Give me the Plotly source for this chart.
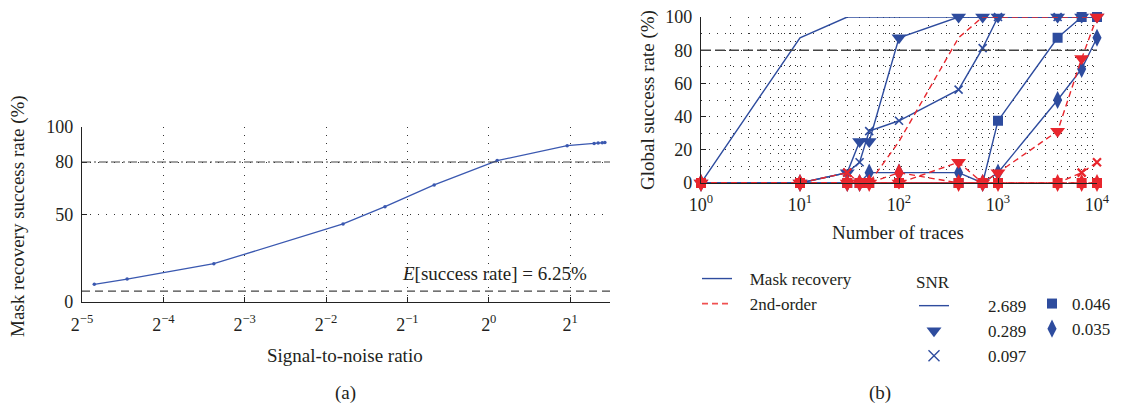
import plotly.graph_objects as go
import numpy as np

# ---------------- data ----------------
# (a) mask recovery success rate vs SNR
snr_a = [0.0347, 0.0459, 0.0961, 0.289, 0.413, 0.628, 1.074, 1.950, 2.454, 2.539, 2.629, 2.689]
rate_a = [10.1, 13.1, 21.9, 44.6, 54.5, 66.9, 80.8, 89.3, 90.6, 90.8, 91.0, 91.1]
expected_rate = 6.25
threshold = 80

# (b) global success rate vs number of traces
traces_n = [1, 10, 30, 40, 50, 100, 400, 700, 1000, 4000, 7000, 10000]
snr_labels = ["2.689", "0.289", "0.097", "0.046", "0.035"]
mask_recovery = {
    "2.689": [0, 87.5, 100, 100, 100, 100, 100, 100, 100, 100, 100, 100],
    "0.289": [0, 0, 6.25, 25, 25, 87.5, 100, 100, 100, 100, 100, 100],
    "0.097": [0, 0, 6.25, 12.5, 31.25, 37.5, 56.25, 81.25, 100, 100, 100, 100],
    "0.046": [0, 0, 0, 0, 0, 0, 0, 0, 37.5, 87.5, 100, 100],
    "0.035": [0, 0, 0, 0, 6.25, 6.25, 6.25, 0, 6.25, 50, 68.75, 87.5],
}
second_order = {
    "2.689": [0, 0, 0, 0, 0, 25, 87.5, 100, 100, 100, 100, 100],
    "0.289": [0, 0, 0, 0, 0, 0, 12.5, 0, 6.25, 31.25, 75, 100],
    "0.097": [0, 0, 6.25, 0, 0, 0, 0, 0, 0, 0, 6.25, 12.5],
    "0.046": [0, 0, 0, 0, 0, 0, 0, 0, 0, 0, 0, 0],
    "0.035": [0, 0, 0, 0, 0, 6.25, 0, 0, 0, 0, 0, 0],
}

# ---------------- styles ----------------
BLUE = "#2e4c9e"
BLUE_A = "#3a58b0"
RED = "#e8262d"
TXT = "#231f20"
GRID = "#333333"
FONT = "Liberation Serif, DejaVu Serif, serif"
NB = "\u00a0"

markers = {
    "2.689": None,
    "0.289": dict(symbol="triangle-down", size=13),
    "0.097": dict(symbol="x-thin", size=8),
    "0.046": dict(symbol="square", size=10),
    "0.035": dict(symbol="diamond-tall", size=13),
}

W, H = 1122, 408
def px(x):
    return x / W
def py(y):
    return 1 - y / H

fig = go.Figure()

# ---- panel (a)
fig.add_trace(go.Scatter(
    x=snr_a, y=rate_a, mode="lines+markers", xaxis="x", yaxis="y",
    line=dict(color=BLUE_A, width=1.3), marker=dict(size=3.5, color=BLUE_A),
    showlegend=False, cliponaxis=False))

# ---- panel (b)
def add_series(data, color, dash, width):
    for lab in snr_labels:
        m = markers[lab]
        if m is None:
            mode = "lines"
            mk = None
        else:
            mode = "lines+markers"
            mk = dict(m, color=color)
            if m["symbol"] == "x-thin":
                mk["line"] = dict(color=color, width=1.6 if color == BLUE else 2.2)
            else:
                mk["line"] = dict(width=0)
        fig.add_trace(go.Scatter(
            x=traces_n, y=data[lab], mode=mode, xaxis="x2", yaxis="y2",
            line=dict(color=color, width=width, dash=dash),
            marker=mk, showlegend=False, cliponaxis=False))

add_series(mask_recovery, BLUE, "solid", 1.4)
add_series(second_order, RED, "6px,4px", 1.4)

# ---- legend entries
fig.add_trace(go.Scatter(x=[None], y=[None], mode="lines", name=NB * 3 + "Mask recovery",
                         line=dict(color=BLUE, width=1.4), legend="legend",
                         xaxis="x2", yaxis="y2"))
fig.add_trace(go.Scatter(x=[None], y=[None], mode="lines", name=NB * 3 + "2nd-order",
                         line=dict(color="#f05050", width=1.6, dash="6px,4px"),
                         legend="legend", xaxis="x2", yaxis="y2"))
for i, lab in enumerate(snr_labels):
    m = markers[lab]
    leg = "legend2" if i < 3 else "legend3"
    name = (NB * 8 + lab) if i < 3 else lab
    if m is None:
        fig.add_trace(go.Scatter(x=[None], y=[None], mode="lines", name=name,
                                 line=dict(color=BLUE, width=1.4), legend=leg,
                                 xaxis="x2", yaxis="y2"))
    else:
        mk = dict(m, color=BLUE)
        mk["line"] = dict(color=BLUE, width=1.4) if m["symbol"] == "x-thin" else dict(width=0)
        if m["symbol"] == "x-thin":
            mk["size"] = 11
        fig.add_trace(go.Scatter(x=[None], y=[None], mode="markers", name=name,
                                 marker=mk, legend=leg, xaxis="x2", yaxis="y2"))

# reference lines
fig.add_hline(y=threshold, xref="x", yref="y", line=dict(color="#444", width=1.2, dash="9px,3px,2px,3px,9px,3px"))
fig.add_hline(y=expected_rate, xref="x", yref="y", line=dict(color="#444", width=1.2, dash="8px,5px"))
fig.add_hline(y=threshold, xref="x2", yref="y2", line=dict(color="#444", width=1.6, dash="10px,4px"))

# axes
oct_vals = [2.0 ** k for k in range(-5, 2)]
oct_text = ["2<sup>%s</sup>" % (str(k).replace("-", "−")) for k in range(-5, 2)]
dec_vals = [10 ** k for k in range(0, 5)]
dec_text = ["10<sup>%d</sup>" % k for k in range(0, 5)]
minor_dec = [m * 10 ** k for k in range(0, 4) for m in range(2, 10)]

tickfont = dict(family=FONT, size=18, color=TXT)
legfont = dict(family=FONT, size=17, color=TXT)
dotted = "1px,7px"

fig.update_layout(
    width=W, height=H, margin=dict(l=0, r=0, t=0, b=0, autoexpand=False),
    paper_bgcolor="white", plot_bgcolor="white",
    font=dict(family=FONT, size=18, color=TXT),
    xaxis=dict(domain=[px(82), px(610)], type="log",
               range=[np.log10(2.0 ** -5), np.log10(2.0 ** 1.49)],
               tickvals=oct_vals, ticktext=oct_text, tickfont=tickfont,
               showline=True, linecolor="#222", linewidth=1.3,
               ticks="inside", ticklen=5, tickcolor="#222",
               showgrid=True, gridcolor=GRID, gridwidth=1, griddash=dotted,
               zeroline=False, anchor="y", automargin=False, ticklabelstandoff=6),
    yaxis=dict(domain=[py(302), py(127)], range=[0, 100],
               tickvals=[0, 50, 80, 100], tickfont=tickfont,
               showline=True, linecolor="#222", linewidth=1.3,
               ticks="inside", ticklen=5, tickcolor="#222",
               showgrid=True, gridcolor=GRID, gridwidth=1, griddash=dotted,
               zeroline=False, anchor="x", ticklabelstandoff=4, automargin=False),
    xaxis2=dict(domain=[px(701), px(1097)], type="log", range=[0, 4],
                tickvals=dec_vals, ticktext=dec_text, tickfont=tickfont,
                showline=True, linecolor="#222", linewidth=1.3,
                ticks="inside", ticklen=5, tickcolor="#222",
                showgrid=True, gridcolor=GRID, gridwidth=1, griddash=dotted,
                minor=dict(tickvals=minor_dec, showgrid=True, gridcolor=GRID,
                           gridwidth=1, griddash=dotted, ticks=""),
                zeroline=False, anchor="y2", automargin=False, ticklabelstandoff=5),
    yaxis2=dict(domain=[py(183), py(17)], range=[0, 100],
                tickvals=[0, 20, 40, 60, 80, 100], tickfont=tickfont,
                showline=True, linecolor="#222", linewidth=1.3,
                ticks="inside", ticklen=5, tickcolor="#222",
                showgrid=True, gridcolor=GRID, gridwidth=1, griddash=dotted,
                minor=dict(dtick=10, showgrid=True, gridcolor=GRID,
                           gridwidth=1, griddash=dotted, ticks=""),
                zeroline=False, anchor="x2", ticklabelstandoff=4, automargin=False),
    legend=dict(x=px(697), y=py(261), xanchor="left", yanchor="top",
                bgcolor="rgba(0,0,0,0)", font=legfont, tracegroupgap=0),
    legend2=dict(x=px(914), y=py(266), xanchor="left", yanchor="top",
                 bgcolor="rgba(0,0,0,0)", font=legfont,
                 title=dict(text="SNR", font=legfont)),
    legend3=dict(x=px(1032), y=py(286), xanchor="left", yanchor="top",
                 bgcolor="rgba(0,0,0,0)", font=legfont),
)

ann = dict(xref="paper", yref="paper", showarrow=False,
           font=dict(family=FONT, size=19, color=TXT))
fig.add_annotation(text="Mask recovery success rate (%)", x=px(18), y=py(216),
                   textangle=-90, xanchor="center", yanchor="middle", **ann)
fig.add_annotation(text="Signal-to-noise ratio", x=px(345), y=py(355),
                   xanchor="center", yanchor="middle", **ann)
fig.add_annotation(text="(a)", x=px(345), y=py(393), xanchor="center", yanchor="middle", **ann)
fig.add_annotation(text="<i>E</i>[success rate] = 6.25%", x=px(494), y=py(273),
                   xanchor="center", yanchor="middle", **ann)
fig.add_annotation(text="Global success rate (%)", x=px(648), y=py(100),
                   textangle=-90, xanchor="center", yanchor="middle", **ann)
fig.add_annotation(text="Number of traces", x=px(898), y=py(232),
                   xanchor="center", yanchor="middle", **ann)
fig.add_annotation(text="(b)", x=px(880), y=py(393), xanchor="center", yanchor="middle", **ann)

fig.write_html("out.html", config={"displayModeBar": False},
               post_script="document.body.style.margin='0';document.body.style.overflow='hidden';")
